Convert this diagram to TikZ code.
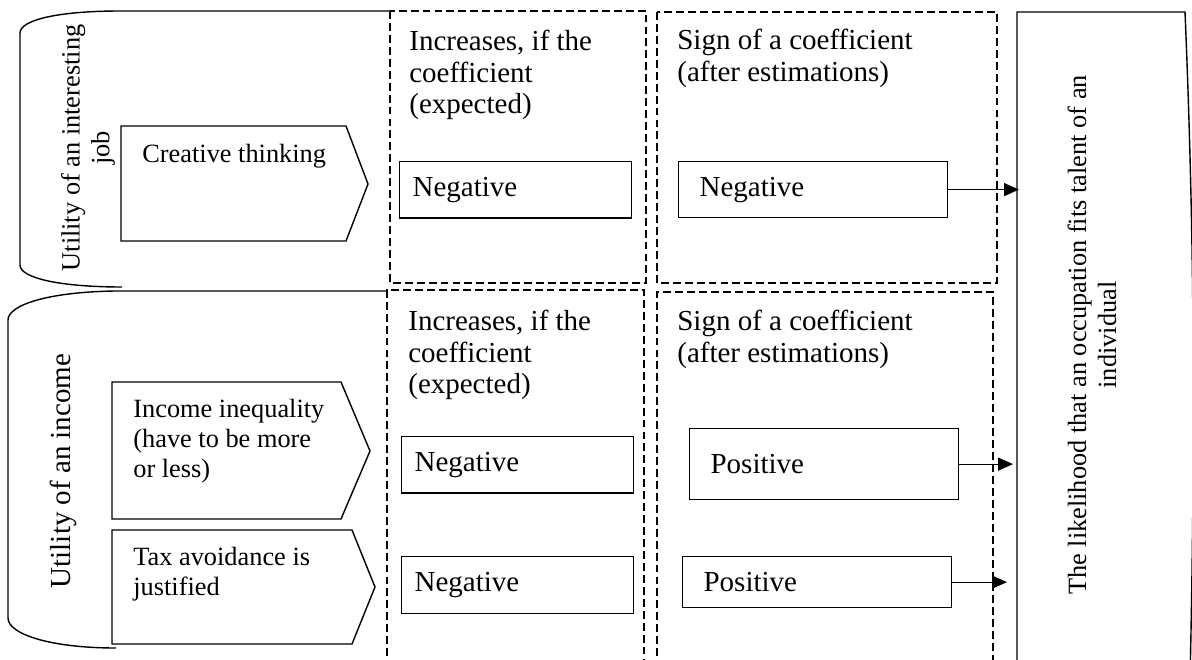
\documentclass[tikz,border=0pt]{standalone}
\usepackage{fontspec}
\setmainfont{Liberation Serif}
\usetikzlibrary{arrows.meta,positioning}

\begin{document}
\begin{tikzpicture}[
    x=0.02cm, y=-0.02cm,
    big/.style={font=\fontsize{16.5}{17.9}\selectfont},
    small/.style={font=\fontsize{15}{17}\selectfont},
    head/.style={big, anchor=north west, inner sep=0pt, align=left},
    tag/.style={small, anchor=north west, inner sep=0pt, align=left},
    side/.style={rotate=90, inner sep=0pt, align=center},
    expbox/.style={rectangle, draw, line width=0.7pt, big, anchor=north west, align=left, inner xsep=0.26cm, text width=4.12cm, minimum height=1.13cm},
    estbox/.style={rectangle, draw, line width=0.7pt, big, anchor=north west, align=left, inner xsep=0.42cm, text width=4.54cm},
    grp/.style={draw, dash pattern=on 4.5pt off 2.3pt, line width=0.6pt},
    edge/.style={line width=0.8pt},
    arrow/.style={-{Triangle[length=0.3cm,width=0.26cm]}, line width=0.7pt}
]
    \useasboundingbox (0,0) rectangle (1192,659);

    \draw[edge] (390,11) -- (120,11) .. controls (58,11) and (20,20) .. (20,33) -- (20,265) .. controls (20,278) and (60,287) .. (122,287);
    \draw[edge] (388,291) -- (115,291) .. controls (48,292) and (8,305) .. (8,320) -- (8,618) .. controls (8,634) and (50,648) .. (116,648);
    \draw[edge] (1017,680) -- (1017,12) -- (1185,12) .. controls (1195,250) and (1195,450) .. (1190,680);

    \draw[grp] (390,11) rectangle (646,283);
    \draw[grp] (657,12) rectangle (997,283);
    \draw[grp] (387,680) |- (644,290) -- (644,680);
    \draw[grp] (657,680) |- (993,292) -- (993,680);

    \draw[edge] (121,126) -- (346,126) -- (368,184) -- (346,241) -- (121,241) -- cycle;
    \draw[edge] (112,382) -- (341,382) -- (370,451) -- (341,519) -- (112,519) -- cycle;
    \draw[edge] (112,530) -- (352,530) -- (375,587) -- (352,644) -- (112,644) -- cycle;

    \node[small, side] (job) at (88,148) {Utility of an interesting\\job};
    \node[big, side] (inc) at (63,471) {Utility of an income};
    \node[small, side] (lk) at (1092,335) {The likelihood that an occupation fits talent of an\\individual};
    \coordinate (fin) at (1019,0);

    \node[tag] (t1) at (142,144) {Creative thinking};
    \node[tag] (t2) at (133,399) {Income inequality\\(have to be more\\or less)};
    \node[tag] (t3) at (133,547) {Tax avoidance is\\justified};

    \node[head] (h1) at (409,30) {Increases, if the\\coefficient\\(expected)};
    \node[head] (h2) at (677,29) {Sign of a coefficient\\(after estimations)};
    \node[head] (h3) at (408,310) {Increases, if the\\coefficient\\(expected)};
    \node[head] (h4) at (677,310) {Sign of a coefficient\\(after estimations)};

    \node[expbox] (e1) at (399,161) {Negative};
    \node[expbox] (e2) at (401,436) {Negative};
    \node[expbox] (e3) at (401,556) {Negative};
    \node[estbox, minimum height=1.12cm] (s1) at (678,161) {Negative};
    \node[estbox, minimum height=1.42cm] (s2) at (689,428) {Positive};
    \node[estbox, minimum height=1.02cm] (s3) at (682,556) {Positive};

    \draw[arrow] (s1.east) -- (s1.east -| fin);
    \draw[arrow, shorten >=0.12cm] (s2.east) -- (s2.east -| fin);
    \draw[arrow, shorten >=0.24cm] (s3.east) -- (s3.east -| fin);
\end{tikzpicture}
\end{document}
